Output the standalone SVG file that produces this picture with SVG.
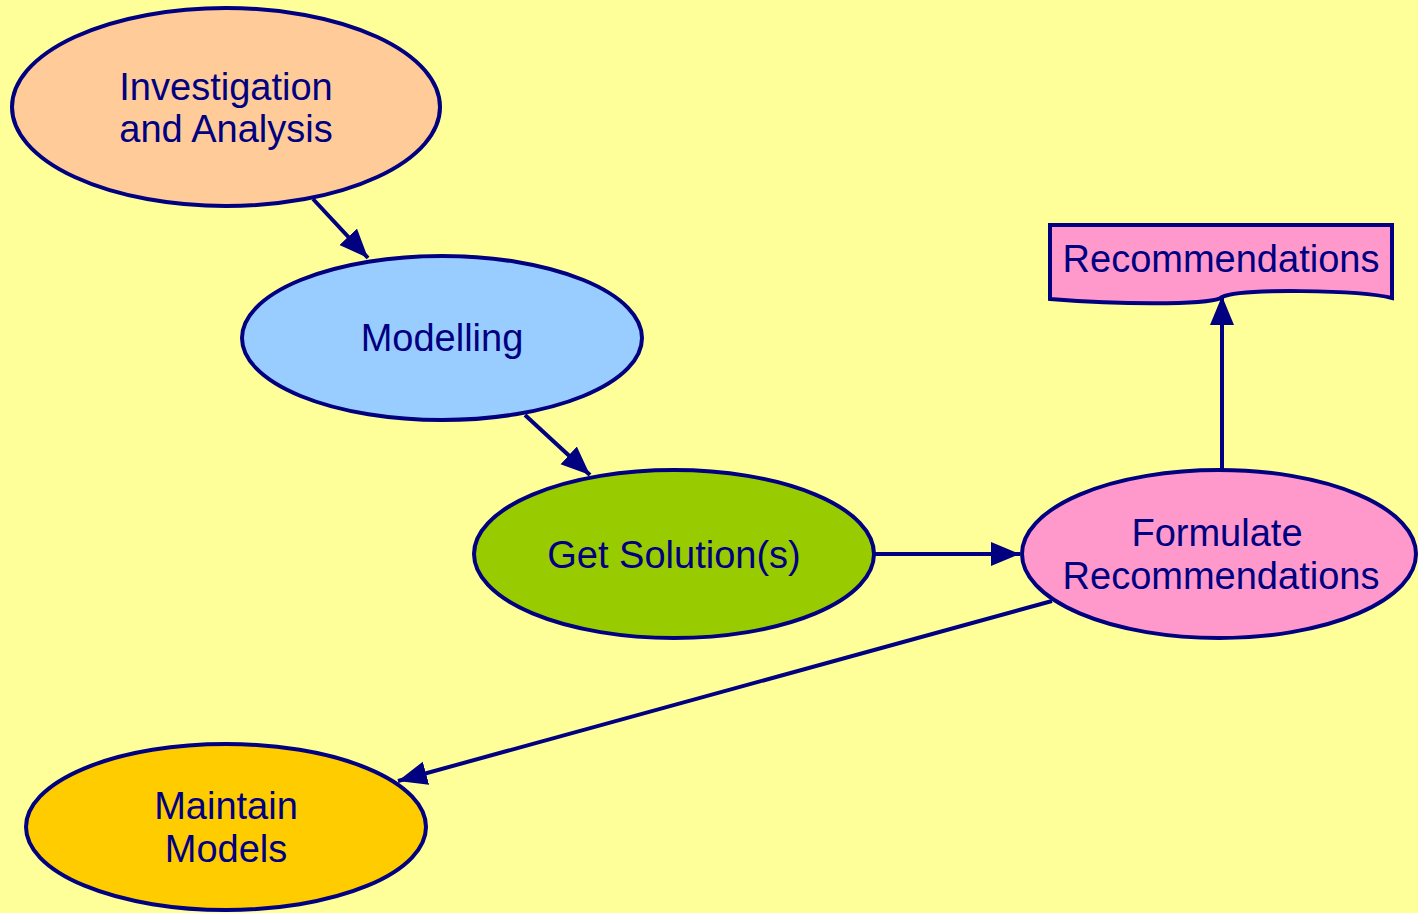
<svg xmlns="http://www.w3.org/2000/svg" width="1418" height="913" viewBox="0 0 1418 913">
<defs>
<marker id="arr" markerUnits="userSpaceOnUse" markerWidth="32" markerHeight="26" refX="29" refY="12" orient="auto">
<path d="M0,0 L29,12 L0,24 z" fill="#000080"/>
</marker>
<style>
.n{stroke:#000080;stroke-width:4}
.t{font-family:"Liberation Sans",Arial,sans-serif;font-size:38px;fill:#000080;text-anchor:middle}
.e{stroke:#000080;stroke-width:4;fill:none;marker-end:url(#arr)}
</style>
</defs>
<rect width="1418" height="913" fill="#FFFF99"/>
<g id="connectors">
<line class="e" x1="313" y1="199" x2="368" y2="258"/>
<line class="e" x1="525" y1="415" x2="590" y2="475"/>
<line class="e" x1="874" y1="554" x2="1020" y2="554"/>
<line class="e" x1="1222" y1="469" x2="1222" y2="296"/>
<line class="e" x1="1052" y1="601" x2="398" y2="781"/>
</g>
<g id="investigation">
<ellipse class="n" cx="226" cy="107" rx="214" ry="99" fill="#FFCC99"/>
<text class="t" x="226" y="100">Investigation</text>
<text class="t" x="226" y="142">and Analysis</text>
</g>
<g id="modelling">
<ellipse class="n" cx="442" cy="338" rx="200" ry="82" fill="#99CCFF"/>
<text class="t" x="442" y="351">Modelling</text>
</g>
<g id="getsolution">
<ellipse class="n" cx="674" cy="554" rx="200" ry="84" fill="#99CC00"/>
<text class="t" x="674" y="568">Get Solution(s)</text>
</g>
<g id="formulate">
<ellipse class="n" cx="1219" cy="554" rx="197" ry="84" fill="#FF99CC"/>
<text class="t" x="1217" y="546">Formulate</text>
<text class="t" x="1221" y="589">Recommendations</text>
</g>
<g id="recommendations">
<path class="n" fill="#FF99CC" d="M1050,225 H1392 V298 C1360,290 1240,288 1222,297 C1215,304 1140,306 1050,299 Z"/>
<text class="t" x="1221" y="272">Recommendations</text>
</g>
<g id="maintain">
<ellipse class="n" cx="226" cy="827" rx="200" ry="83" fill="#FFCC00"/>
<text class="t" x="226" y="819">Maintain</text>
<text class="t" x="226" y="862">Models</text>
</g>
</svg>
